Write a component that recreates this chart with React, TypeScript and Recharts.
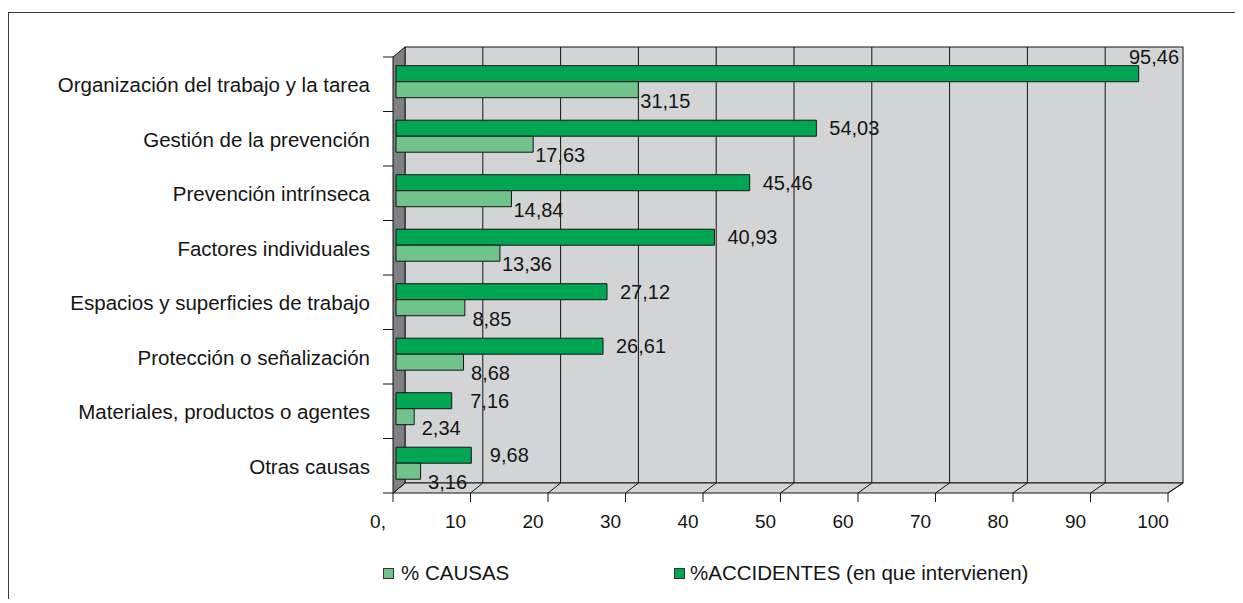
import { BarChart, Bar, XAxis, YAxis, ReferenceArea, LabelList } from "recharts";

const categories = [
  "Organización del trabajo y la tarea",
  "Gestión de la prevención",
  "Prevención intrínseca",
  "Factores individuales",
  "Espacios y superficies de trabajo",
  "Protección o señalización",
  "Materiales, productos o agentes",
  "Otras causas",
];
const accidentes = [95.46, 54.03, 45.46, 40.93, 27.12, 26.61, 7.16, 9.68];
const causas = [31.15, 17.63, 14.84, 13.36, 8.85, 8.68, 2.34, 3.16];
const xTicks = [0, 10, 20, 30, 40, 50, 60, 70, 80, 90, 100];
const xTickLabels = ["0,", "10", "20", "30", "40", "50", "60", "70", "80", "90", "100"];
const seriesNames = ["% CAUSAS", "%ACCIDENTES (en que intervienen)"];

const data = categories.map((name, i) => ({
  name,
  accidentes: accidentes[i],
  causas: causas[i],
}));

const FONT = "'Liberation Sans', Arial, Helvetica, sans-serif";
const DARK = "#00a651";
const LIGHT = "#70c38b";
const WALL = "#d3d4d6";
const SIDE = "#7f7f85";
const INK = "#141414";

const fmt = (v: number) => v.toFixed(2).replace(".", ",");

// 3D box: back wall, floor, left wall, gridlines, category ticks
function Box3D(props: any) {
  const { x, y, width: w, height: h } = props;
  const sx = (v: number) => x + (w * v) / 100;
  const front = (v: number) => sx(v) - 3 - 0.03 * v;
  const back = (v: number) => sx(v) + 9;
  const fTop = y + 3;
  const fBot = y + h + 3;
  const bTop = y - 7;
  const bBot = y + h - 7;
  const band = h / categories.length;
  return (
    <g>
      <rect x={back(0)} y={bTop} width={back(100) - back(0)} height={h} fill={WALL} stroke={INK} />
      {xTicks.slice(1, -1).map((v) => (
        <line key={"g" + v} x1={back(v)} x2={back(v)} y1={bTop} y2={bBot} stroke={INK} />
      ))}
      <polygon
        points={`${front(0)},${fBot} ${front(100)},${fBot} ${back(100)},${bBot} ${back(0)},${bBot}`}
        fill={WALL}
        stroke={INK}
      />
      {xTicks.map((v) => (
        <line key={"f" + v} x1={front(v)} y1={fBot} x2={back(v)} y2={bBot} stroke={INK} />
      ))}
      <polygon
        points={`${front(0)},${fTop} ${back(0)},${bTop} ${back(0)},${bBot} ${front(0)},${fBot}`}
        fill={SIDE}
        stroke={INK}
      />
      {[...categories, ""].map((_, i) => (
        <line
          key={"t" + i}
          x1={front(0) - 10}
          x2={front(0)}
          y1={fTop + i * band}
          y2={fTop + i * band}
          stroke={INK}
        />
      ))}
    </g>
  );
}

function XTick(p: any) {
  const v = p.payload.value;
  const fx = p.x - 3 - 0.03 * v;
  return (
    <g>
      <line x1={fx} x2={fx} y1={p.y + 3} y2={p.y + 12} stroke={INK} />
      <text
        x={fx - 15}
        y={p.y + 31}
        textAnchor="middle"
        dominantBaseline="central"
        fontFamily={FONT}
        fontSize={19}
        fill={INK}
      >
        {xTickLabels[xTicks.indexOf(v)]}
      </text>
    </g>
  );
}

function YTick(p: any) {
  return (
    <text
      x={p.x - 26}
      y={p.y + 3.5}
      textAnchor="end"
      dominantBaseline="central"
      fontFamily={FONT}
      fontSize={20.5}
      fill={INK}
    >
      {p.payload.value}
    </text>
  );
}

function DarkLabel(p: any) {
  const { x, y, width, height, value } = p;
  const full = (width / value) * 100;
  let cx = x + width + 38;
  let cy = y + height / 2;
  if (cx + 26 > x + full + 8) {
    cx = x + full - 20;
    cy -= 17;
  }
  return (
    <text x={cx} y={cy} textAnchor="middle" dominantBaseline="central" fontFamily={FONT} fontSize={20} fill={INK}>
      {fmt(value)}
    </text>
  );
}

function LightLabel(p: any) {
  const { x, y, width, height, value } = p;
  return (
    <text
      x={x + width + 27}
      y={y + height / 2 + 11}
      textAnchor="middle"
      dominantBaseline="central"
      fontFamily={FONT}
      fontSize={20}
      fill={INK}
    >
      {fmt(value)}
    </text>
  );
}

export default function App() {
  return (
    <div style={{ paddingTop: 4 }}>
      <div
        style={{
          position: "relative",
          width: 1234,
          height: 586,
          borderTop: "1px solid #3a3a3a",
          borderLeft: "1px solid #3a3a3a",
        }}
      >
        <BarChart
          width={1234}
          height={586}
          data={data}
          layout="vertical"
          margin={{ top: 41, right: 69, bottom: 49, left: 0 }}
          barCategoryGap="21.5%"
          barGap={0}
        >
          <XAxis
            type="number"
            domain={[0, 100]}
            ticks={xTicks}
            interval={0}
            tickSize={0}
            tickMargin={0}
            axisLine={false}
            tickLine={false}
            tick={<XTick />}
            height={60}
          />
          <YAxis
            type="category"
            dataKey="name"
            width={387}
            interval={0}
            tickSize={0}
            tickMargin={0}
            axisLine={false}
            tickLine={false}
            tick={<YTick />}
          />
          <ReferenceArea x1={0} x2={100} ifOverflow="visible" shape={<Box3D />} zIndex={-200} />
          <Bar dataKey="accidentes" fill={DARK} stroke={INK} strokeWidth={1} isAnimationActive={false}>
            <LabelList dataKey="accidentes" content={<DarkLabel />} />
          </Bar>
          <Bar dataKey="causas" fill={LIGHT} stroke={INK} strokeWidth={1} isAnimationActive={false}>
            <LabelList dataKey="causas" content={<LightLabel />} />
          </Bar>
        </BarChart>
        {[LIGHT, DARK].map((c, i) => (
          <div
            key={seriesNames[i]}
            style={{
              position: "absolute",
              left: i === 0 ? 374 : 665,
              top: 549,
              height: 22,
              display: "flex",
              alignItems: "center",
              fontFamily: FONT,
              fontSize: 20.5,
              color: INK,
              whiteSpace: "nowrap",
            }}
          >
            <span
              style={{
                display: "inline-block",
                width: 9,
                height: 9,
                background: c,
                border: "1px solid #333",
                marginRight: i === 0 ? 7 : 5,
              }}
            />
            {seriesNames[i]}
          </div>
        ))}
      </div>
    </div>
  );
}
